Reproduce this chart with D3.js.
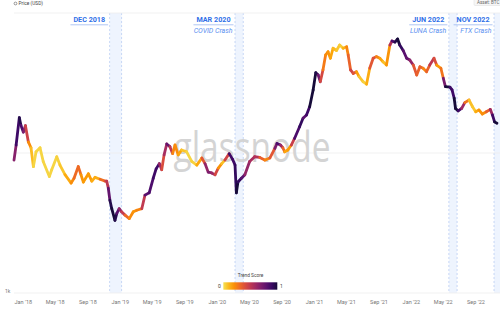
<!DOCTYPE html>
<html lang="en">
<head>
<meta charset="UTF-8">
<title>Bitcoin Price - Trend Score</title>
<script src="https://d3js.org/d3.v7.min.js"></script>
<style>
  body { margin: 0; background: white; }
  svg { display: block; font-family: Roboto, "Noto Sans", sans-serif; }
</style>
</head>
<body>
<svg id="chart" width="500" height="320"></svg>
<script>
// price series (USD, log axis)
const dates = [
  "2017-11-27","2017-12-05","2017-12-17","2017-12-23","2018-01-01","2018-01-09","2018-01-20","2018-01-30",
  "2018-02-08","2018-02-18","2018-03-05","2018-03-17","2018-04-09","2018-04-18","2018-05-07","2018-05-19",
  "2018-06-07","2018-06-30","2018-07-11","2018-07-27","2018-08-06","2018-08-15","2018-09-03","2018-09-16",
  "2018-09-28","2018-10-17","2018-11-05","2018-11-11","2018-11-17","2018-11-23","2018-11-30","2018-12-12",
  "2018-12-19","2018-12-28","2019-01-06","2019-01-19","2019-02-04","2019-02-19","2019-03-04","2019-03-23",
  "2019-04-04","2019-04-20","2019-05-05","2019-05-16","2019-05-28","2019-06-06","2019-06-15","2019-06-25",
  "2019-07-07","2019-07-17","2019-07-26","2019-08-07","2019-08-20","2019-09-08","2019-09-27","2019-10-16",
  "2019-11-04","2019-11-16","2019-11-28","2019-12-11","2019-12-24","2020-01-05","2020-01-18","2020-01-30",
  "2020-02-15","2020-02-28","2020-03-08","2020-03-13","2020-03-19","2020-04-01","2020-04-14","2020-05-02",
  "2020-05-21","2020-06-09","2020-06-28","2020-07-17","2020-08-05","2020-08-13","2020-08-26","2020-09-04",
  "2020-09-11","2020-09-23","2020-10-06","2020-10-18","2020-11-06","2020-11-19","2020-12-02","2020-12-14",
  "2020-12-27","2021-01-06","2021-01-15","2021-01-23","2021-02-02","2021-02-12","2021-02-21","2021-03-02",
  "2021-03-12","2021-03-25","2021-04-06","2021-04-19","2021-05-02","2021-05-08","2021-05-17","2021-05-27",
  "2021-06-08","2021-06-18","2021-07-03","2021-07-16","2021-07-28","2021-08-10","2021-08-22","2021-09-04",
  "2021-09-16","2021-09-29","2021-10-12","2021-10-20","2021-10-31","2021-11-10","2021-11-18","2021-12-01",
  "2021-12-14","2021-12-26","2022-01-08","2022-01-21","2022-02-02","2022-02-14","2022-02-27","2022-03-11",
  "2022-03-27","2022-04-06","2022-04-22","2022-05-01","2022-05-09","2022-05-26","2022-06-03","2022-06-11",
  "2022-06-16","2022-06-26","2022-07-09","2022-07-21","2022-08-06","2022-08-19","2022-08-31","2022-09-12",
  "2022-09-25","2022-10-10","2022-10-25","2022-11-02","2022-11-10","2022-11-19"
];
const prices = [
  8900,11400,17900,15800,14100,15700,12000,10900,
  8000,10200,10900,8700,6800,7600,9400,8200,
  7000,6100,6600,8000,7000,6200,7100,6300,
  6700,6500,6300,6300,5600,4600,4000,3300,
  3700,4000,3800,3600,3400,3800,3900,4000,
  5000,5200,6600,7700,8400,7600,9700,11600,
  11100,9900,11400,9700,10500,10200,8700,8200,
  9200,8400,7300,7200,7000,7800,8400,8900,
  9900,9000,8200,5200,6200,6600,7000,8700,
  9400,9300,8900,9200,10800,11700,11400,10900,
  10200,10500,11400,12700,15400,17700,18700,21400,
  28200,37500,36100,32300,39200,50100,52900,47500,
  56000,54000,59000,56000,57400,50100,39200,37000,
  38100,35100,32300,31000,40300,47500,48800,47500,
  44900,42500,59000,63100,62000,65200,59000,54000,
  47500,46100,42500,36100,41300,40300,38100,42500,
  47500,42500,40300,34200,29800,29500,28200,24600,
  20800,20000,20800,22900,23900,21400,19700,20300,
  19000,19700,20500,18700,16700,16300
];
// trend score 0..1
const scores = [
  0.57,0.77,1,0.92,0.77,0.63,0.28,0.15,
  0.03,0.03,0.03,0.03,0.03,0.03,0.03,0.05,
  0.08,0.19,0.23,0.38,0.23,0.15,0.19,0.15,
  0.11,0.15,0.44,0.38,0.63,0.92,1,1,
  0.92,0.7,0.57,0.38,0.23,0.19,0.19,0.28,
  0.7,0.92,0.77,1,0.77,0.44,0.38,0.77,
  0.77,0.23,0.23,0.19,0.11,0.03,0.03,0.05,
  0.23,0.5,0.77,0.63,0.57,0.28,0.11,0.05,
  0.84,0.92,0.84,1,1,0.84,0.77,0.5,
  0.63,0.44,0.23,0.23,0.5,0.92,0.77,0.44,
  0.19,0.11,0.23,0.7,1,0.84,0.77,1,
  1,1,0.92,0.57,0.28,0.23,0.19,0.19,
  0.11,0.08,0.05,0.05,0.19,0.28,0.38,0.5,
  0.23,0.08,0.05,0.03,0.23,0.5,0.28,0.19,
  0.11,0.05,0.33,0.77,0.92,1,1,0.84,
  0.77,0.77,0.5,0.23,0.44,0.23,0.23,0.44,
  0.57,0.23,0.11,0.44,1,1,0.77,1,
  1,1,0.77,0.44,0.11,0.05,0.08,0.19,
  0.19,0.23,0.44,0.77,1,1
];

const tickDates = ["2018-01-01","2018-05-01","2018-09-01","2019-01-01","2019-05-01","2019-09-01",
  "2020-01-01","2020-05-01","2020-09-01","2021-01-01","2021-05-01","2021-09-01",
  "2022-01-01","2022-05-01","2022-09-01"];
const tickLabels = ["Jan '18","May '18","Sep '18","Jan '19","May '19","Sep '19","Jan '20","May '20",
  "Sep '20","Jan '21","May '21","Sep '21","Jan '22","May '22","Sep '22"];

const yTicks = [1000, 10000, 100000];
const yTickLabels = ["1k", "", ""];

const eventNames = ["DEC 2018", "MAR 2020", "JUN 2022", "NOV 2022"];
const eventNotes = ["", "COVID Crash", "LUNA Crash", "FTX Crash"];
const eventStart = ["2018-11-22", "2020-03-08", "2022-05-22", "2022-11-08"];
const eventEnd = ["2019-01-06", "2020-04-08", "2022-06-22", "2022-12-20"];

const svg = d3.select("#chart");
const W = 500, H = 320;
const plotTop = 13, plotBottom = 293, plotLeft = 14;

const x = d3.scaleUtc()
  .domain([new Date("2017-11-27"), new Date("2022-12-08")])
  .range([plotLeft, 502]);
const y = d3.scaleLog().domain([1000, 100000]).range([plotBottom, plotTop]);
const colorOf = s => d3.interpolateInferno(0.92 - 0.82 * s);

const data = dates.map((d, i) => ({ date: new Date(d), price: prices[i], score: scores[i] }));

// event bands
const bands = svg.append("g");
eventNames.forEach((name, i) => {
  const x0 = x(new Date(eventStart[i])), x1 = x(new Date(eventEnd[i]));
  bands.append("rect")
    .attr("x", x0).attr("y", plotTop).attr("width", x1 - x0).attr("height", plotBottom - plotTop)
    .attr("fill", "#eef4fe");
  [x0, x1].forEach(xx => {
    bands.append("line")
      .attr("x1", xx).attr("x2", xx).attr("y1", plotTop).attr("y2", plotBottom)
      .attr("stroke", "#b3c9f2").attr("stroke-width", 0.7)
      .attr("stroke-dasharray", "2,2");
  });
});

// grid lines
svg.append("g").selectAll("line")
  .data(yTicks).join("line")
  .attr("x1", plotLeft).attr("x2", W)
  .attr("y1", d => y(d)).attr("y2", d => y(d))
  .attr("stroke", "#eeeeee").attr("stroke-width", 0.8);

svg.append("g").selectAll("text")
  .data(yTicks).join("text")
  .attr("x", 5).attr("y", d => y(d) - 0.5)
  .attr("font-size", 5).attr("fill", "#777")
  .text((d, i) => yTickLabels[i]);

// watermark
svg.append("text")
  .attr("x", 252).attr("y", 162)
  .attr("text-anchor", "middle")
  .attr("font-family", "'Open Sans', sans-serif")
  .attr("font-size", 42)
  .attr("textLength", 157).attr("lengthAdjust", "spacingAndGlyphs")
  .attr("fill", "#d4d4d4")
  .text("glassnode");

// price line coloured by trend score
const seg = svg.append("g");
for (let i = 0; i < data.length - 1; i++) {
  const a = data[i], b = data[i + 1];
  seg.append("line")
    .attr("x1", x(a.date)).attr("y1", y(a.price))
    .attr("x2", x(b.date)).attr("y2", y(b.price))
    .attr("stroke", colorOf((a.score + b.score) / 2))
    .attr("stroke-width", 2.8)
    .attr("stroke-linecap", "round");
}

// event labels
eventNames.forEach((name, i) => {
  const xr = x(new Date(eventStart[i])) - 1.5;
  const t = svg.append("text")
    .attr("x", xr - 3).attr("y", 22)
    .attr("text-anchor", "end")
    .attr("font-size", 7.2).attr("font-weight", "bold")
    .attr("fill", "#2f6fe8")
    .text(name);
  const w = t.node().getComputedTextLength();
  svg.append("line")
    .attr("x1", xr - w - 6).attr("x2", xr)
    .attr("y1", 24.8).attr("y2", 24.8)
    .attr("stroke", "#8fb0ef").attr("stroke-width", 0.7);
  if (eventNotes[i]) {
    svg.append("text")
      .attr("x", xr - 1).attr("y", 33)
      .attr("text-anchor", "end")
      .attr("font-size", 7).attr("font-style", "italic")
      .attr("fill", "#5a8ff0")
      .text(eventNotes[i]);
  }
});

// x axis labels
svg.append("g").selectAll("text")
  .data(tickDates).join("text")
  .attr("x", d => x(new Date(d)))
  .attr("y", 304)
  .attr("text-anchor", "middle")
  .attr("font-size", 5.5).attr("fill", "#777")
  .text((d, i) => tickLabels[i]);

// legend
const defs = svg.append("defs");
const grad = defs.append("linearGradient").attr("id", "trendGrad");
d3.range(0, 1.01, 0.1).forEach(s => {
  grad.append("stop").attr("offset", s).attr("stop-color", colorOf(s));
});
svg.append("rect")
  .attr("x", 223.3).attr("y", 282.3).attr("width", 54).attr("height", 7.4)
  .attr("fill", "url(#trendGrad)");
svg.append("text").attr("x", 250.5).attr("y", 277)
  .attr("text-anchor", "middle").attr("font-size", 4.8).attr("fill", "#444")
  .text("Trend Score");
svg.append("text").attr("x", 219.5).attr("y", 288)
  .attr("text-anchor", "middle").attr("font-size", 5).attr("fill", "#444").text("0");
svg.append("text").attr("x", 281.5).attr("y", 288)
  .attr("text-anchor", "middle").attr("font-size", 5).attr("fill", "#444").text("1");

// header
svg.append("circle").attr("cx", 15.5).attr("cy", 3.5).attr("r", 1.4)
  .attr("fill", "none").attr("stroke", "#555").attr("stroke-width", 0.6);
svg.append("text").attr("x", 18.5).attr("y", 5.3)
  .attr("font-size", 4.8).attr("fill", "#444").text("Price (USD)");
svg.append("rect").attr("x", 474).attr("y", -2).attr("width", 30).attr("height", 7.5)
  .attr("rx", 1).attr("fill", "#f6f6f6").attr("stroke", "#dddddd").attr("stroke-width", 0.5);
svg.append("text").attr("x", 477).attr("y", 3.6)
  .attr("font-size", 4.6).attr("fill", "#666").text("Asset: BTC");
</script>
</body>
</html>
